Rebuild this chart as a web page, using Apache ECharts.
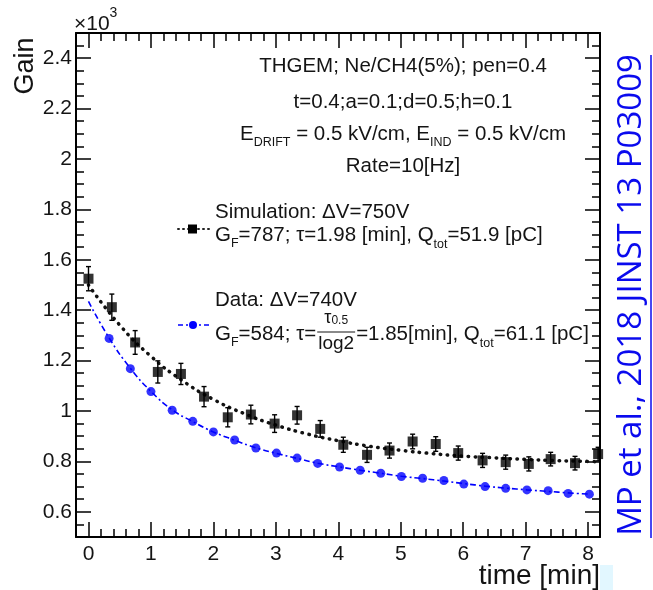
<!DOCTYPE html>
<html><head><meta charset="utf-8">
<script src="https://cdn.jsdelivr.net/npm/echarts@6/dist/echarts.min.js"></script>
<style>html,body{margin:0;padding:0;background:#fff}#c{width:653px;height:590px}</style>
</head><body><div id="c"></div>
<script>
// ---- data (Gain in units of 10^3, time in minutes) ----
const simX = [0, 0.374, 0.747, 1.11, 1.48, 1.85, 2.23, 2.60, 2.98, 3.34, 3.71, 4.08, 4.46, 4.82, 5.19, 5.56, 5.92, 6.31, 6.68, 7.05, 7.40, 7.79, 8.16];
const simY = [1.525, 1.412, 1.272, 1.155, 1.147, 1.057, 0.975, 0.986, 0.950, 0.983, 0.929, 0.866, 0.826, 0.843, 0.879, 0.869, 0.833, 0.804, 0.797, 0.790, 0.809, 0.793, 0.829];
const simErr = [0.048, 0.052, 0.047, 0.044, 0.042, 0.040, 0.038, 0.037, 0.035, 0.035, 0.033, 0.030, 0.030, 0.030, 0.029, 0.029, 0.028, 0.028, 0.028, 0.028, 0.027, 0.027, 0.027];
const dataX = [0.33, 0.67, 1.00, 1.34, 1.67, 2.00, 2.34, 2.68, 3.01, 3.34, 3.67, 4.02, 4.35, 4.68, 5.01, 5.35, 5.69, 6.01, 6.35, 6.68, 7.02, 7.36, 7.68, 8.02];
const dataY = [1.288, 1.168, 1.077, 1.003, 0.959, 0.917, 0.885, 0.853, 0.833, 0.813, 0.792, 0.778, 0.765, 0.753, 0.740, 0.733, 0.724, 0.710, 0.700, 0.693, 0.687, 0.684, 0.673, 0.670];
const simFitX = [0, 0.5, 1, 1.5, 2, 2.5, 3, 3.5, 4, 4.5, 5, 5.5, 6, 6.5, 7, 7.5, 8, 8.19];
const simFitY = [1.500, 1.341, 1.217, 1.121, 1.046, 0.989, 0.944, 0.909, 0.882, 0.860, 0.844, 0.831, 0.821, 0.814, 0.808, 0.803, 0.800, 0.798];
const dataFitX = [0, 0.33, 0.67, 1.00, 1.34, 1.67, 2.00, 2.34, 2.68, 3.01, 3.34, 3.67, 4.02, 4.35, 4.68, 5.01, 5.35, 5.69, 6.01, 6.35, 6.68, 7.02, 7.36, 7.68, 8.02];
const dataFitY = [1.435, 1.290, 1.170, 1.078, 1.005, 0.958, 0.917, 0.884, 0.854, 0.832, 0.812, 0.793, 0.778, 0.765, 0.753, 0.741, 0.732, 0.722, 0.712, 0.702, 0.694, 0.687, 0.681, 0.675, 0.670];
const xTicks = [0, 1, 2, 3, 4, 5, 6, 7, 8];
const yTicks = [0.6, 0.8, 1.0, 1.2, 1.4, 1.6, 1.8, 2.0, 2.2, 2.4];
const xRange = [-0.2, 8.19];
const yRange = [0.5, 2.5];

const xMinor = []; for (let i = -1; i <= 41; i++) xMinor.push(+(i * 0.2).toFixed(2));
const yMinor = []; for (let i = 10; i <= 50; i++) yMinor.push(+(i * 0.05).toFixed(2));

const TXT = '#141414';
const FONT = 'Liberation Sans';
const ctx = document.createElement('canvas').getContext('2d');
function tw(t, fs) { ctx.font = fs + 'px "' + FONT + '"'; return ctx.measureText(t).width; }
function txt(x, y, t, fs, extra) {
  return Object.assign({ type: 'text', x: x, y: y, silent: true,
    style: { text: t, fontSize: fs, fontFamily: FONT, fill: TXT, textAlign: 'left', textVerticalAlign: 'middle', align: 'left', verticalAlign: 'middle' } }, extra || {});
}
function run(x, y, segs, center) {
  const total = segs.reduce((s, g) => s + tw(g[0], g[1]), 0);
  let cx = center ? x - total / 2 : x;
  const out = [];
  segs.forEach(g => { out.push(txt(cx, y + (g[2] || 0), g[0], g[1])); cx += tw(g[0], g[1]); });
  return { els: out, end: cx };
}

const FS = 20.5, SUB = 12.5;
let graphics = [];
graphics.push(...run(403, 66, [['THGEM; Ne/CH4(5%); pen=0.4', FS]], true).els);
graphics.push(...run(403, 102, [['t=0.4;a=0.1;d=0.5;h=0.1', FS]], true).els);
graphics.push(...run(403, 134, [['E', FS], ['DRIFT', SUB, 9], [' = 0.5 kV/cm, E', FS], ['IND', SUB, 9], [' = 0.5 kV/cm', FS]], true).els);
graphics.push(...run(403, 166, [['Rate=10[Hz]', FS]], true).els);

graphics.push(...run(215, 212, [['Simulation: \u0394V=750V', FS]]).els);
graphics.push(...run(215, 235, [['G', FS], ['F', SUB, 9], ['=787; \u03c4=1.98 [min], Q', FS], ['tot', SUB, 10], ['=51.9 [pC]', FS]]).els);
graphics.push(...run(215, 300, [['Data: \u0394V=740V', FS]]).els);
let r1 = run(215, 334, [['G', FS], ['F', SUB, 9], ['=584; \u03c4=', FS]]);
graphics.push(...r1.els);
// fraction tau_0.5 / log2
const fx = r1.end + 1;
const numW = tw('\u03c4', 18) + tw('0.5', 12);
const denW = tw('log2', 19);
const fw = Math.max(numW, denW) + 2;
graphics.push(txt(fx + (fw - numW) / 2, 318, '\u03c4', 18));
graphics.push(txt(fx + (fw - numW) / 2 + tw('\u03c4', 18), 321, '0.5', 12));
graphics.push({ type: 'line', silent: true, shape: { x1: fx, y1: 332, x2: fx + fw, y2: 332 }, style: { stroke: TXT, lineWidth: 1.2 } });
graphics.push(txt(fx + (fw - denW) / 2, 344, 'log2', 19));
graphics.push(...run(fx + fw + 1, 334, [['=1.85[min], Q', FS], ['tot', SUB, 10], ['=61.1 [pC]', FS]]).els);

// legend icons
graphics.push({ type: 'line', silent: true, shape: { x1: 178, y1: 229, x2: 209, y2: 229 }, style: { stroke: '#222', lineWidth: 2, lineDash: [1, 4], lineCap: 'round' } });
graphics.push({ type: 'rect', silent: true, shape: { x: 188, y: 224.5, width: 9, height: 9 }, style: { fill: '#000' } });
graphics.push({ type: 'line', silent: true, shape: { x1: 178, y1: 325, x2: 209, y2: 325 }, style: { stroke: '#0000ff', lineWidth: 1.5, lineDash: [5, 3, 2, 3] } });
graphics.push({ type: 'circle', silent: true, shape: { cx: 193, cy: 325, r: 4 }, style: { fill: '#0000ff' } });

// x10^3
graphics.push(txt(74, 24, '\u00d710', 21));
graphics.push(txt(74 + tw('\u00d710', 21), 13, '3', 14));
// axis titles
graphics.push({ type: 'text', x: 26, y: 66, rotation: Math.PI / 2, silent: true,
  style: { text: 'Gain', fontSize: 27, fontFamily: FONT, fill: TXT, textAlign: 'center', textVerticalAlign: 'middle', align: 'center', verticalAlign: 'middle' } });
graphics.push({ type: 'text', x: 600, y: 576, silent: true,
  style: { text: 'time [min]', fontSize: 28, fontFamily: FONT, fill: TXT, textAlign: 'right', textVerticalAlign: 'middle', align: 'right', verticalAlign: 'middle' } });
// citation
graphics.push({ type: 'text', x: 632, y: 295, rotation: Math.PI / 2, silent: true,
  style: { text: 'MP et al., 2018 JINST 13 P03009', fontSize: 33, fontFamily: 'Open Sans', fill: '#0a0aee', textAlign: 'center', textVerticalAlign: 'middle', align: 'center', verticalAlign: 'middle' } });
graphics.push({ type: 'line', silent: true, shape: { x1: 651, y1: 55, x2: 651, y2: 538 }, style: { stroke: '#0a0aee', lineWidth: 1.5 } });
graphics.push({ type: 'rect', silent: true, shape: { x: 600, y: 565, width: 13, height: 25 }, style: { fill: '#e2f7ff' } });

function xAxisDef(pos, ticks, len, labels, line) {
  return { type: 'value', gridIndex: 0, position: pos, min: xRange[0], max: xRange[1],
    axisLine: { show: line, onZero: false, lineStyle: { color: '#000', width: 2 } },
    axisTick: { show: true, inside: true, length: len, customValues: ticks, lineStyle: { color: '#000', width: 1.5 } },
    axisLabel: labels ? { show: true, customValues: ticks, fontSize: 21, fontFamily: FONT, color: TXT, margin: 7 } : { show: false },
    splitLine: { show: false } };
}
function yAxisDef(pos, ticks, len, labels, line) {
  return { type: 'value', gridIndex: 0, position: pos, min: yRange[0], max: yRange[1],
    axisLine: { show: line, onZero: false, lineStyle: { color: '#000', width: 2 } },
    axisTick: { show: true, inside: true, length: len, customValues: ticks, lineStyle: { color: '#000', width: 1.5 } },
    axisLabel: labels ? { show: true, customValues: ticks, fontSize: 21, fontFamily: FONT, color: TXT, margin: 4, formatter: v => String(+v.toFixed(2)) } : { show: false },
    splitLine: { show: false } };
}

const option = {
  animation: false,
  backgroundColor: '#fff',
  grid: { left: 76, top: 33, width: 524, height: 504, containLabel: false },
  xAxis: [
    xAxisDef('bottom', xTicks, 15, true, true),
    xAxisDef('bottom', xMinor, 8, false, false),
    xAxisDef('top', xTicks, 15, false, true),
    xAxisDef('top', xMinor, 8, false, false)
  ],
  yAxis: [
    yAxisDef('left', yTicks, 15, true, true),
    yAxisDef('left', yMinor, 8, false, false),
    yAxisDef('right', yTicks, 15, false, true),
    yAxisDef('right', yMinor, 8, false, false)
  ],
  series: [
    { type: 'line', name: 'sim fit', xAxisIndex: 0, yAxisIndex: 0, data: simFitX.map((x, i) => [x, simFitY[i]]),
      smooth: true, symbol: 'none', lineStyle: { color: '#111', width: 3.5, type: [0.5, 6.5], cap: 'round' }, z: 2 },
    { type: 'line', name: 'data fit', xAxisIndex: 0, yAxisIndex: 0, data: dataFitX.map((x, i) => [x, dataFitY[i]]),
      smooth: true, symbol: 'none', lineStyle: { color: '#0000ff', width: 1.6, type: [6, 3, 2, 3] }, z: 2 },
    { type: 'custom', name: 'sim err', xAxisIndex: 0, yAxisIndex: 0, data: simX.map((x, i) => [x, simY[i], simErr[i]]),
      renderItem: (params, api) => {
        const x = api.value(0), y = api.value(1), e = api.value(2);
        const t = api.coord([x, y + e]), b = api.coord([x, y - e]);
        const st = { stroke: '#000', lineWidth: 1.4 };
        return { type: 'group', children: [
          { type: 'line', shape: { x1: t[0], y1: t[1], x2: b[0], y2: b[1] }, style: st },
          { type: 'line', shape: { x1: t[0] - 2.5, y1: t[1], x2: t[0] + 2.5, y2: t[1] }, style: st },
          { type: 'line', shape: { x1: b[0] - 2.5, y1: b[1], x2: b[0] + 2.5, y2: b[1] }, style: st }
        ] };
      }, z: 3 },
    { type: 'scatter', name: 'Simulation', xAxisIndex: 0, yAxisIndex: 0, data: simX.map((x, i) => [x, simY[i]]),
      symbol: 'rect', symbolSize: 10, itemStyle: { color: '#000' }, z: 4 },
    { type: 'scatter', name: 'Data', xAxisIndex: 0, yAxisIndex: 0, data: dataX.map((x, i) => [x, dataY[i]]),
      symbol: 'circle', symbolSize: 9, itemStyle: { color: '#0000ff' }, z: 4 }
  ],
  graphic: { elements: graphics }
};
const chart = echarts.init(document.getElementById('c'), null, { renderer: 'canvas' });
chart.setOption(option);
</script></body></html>
